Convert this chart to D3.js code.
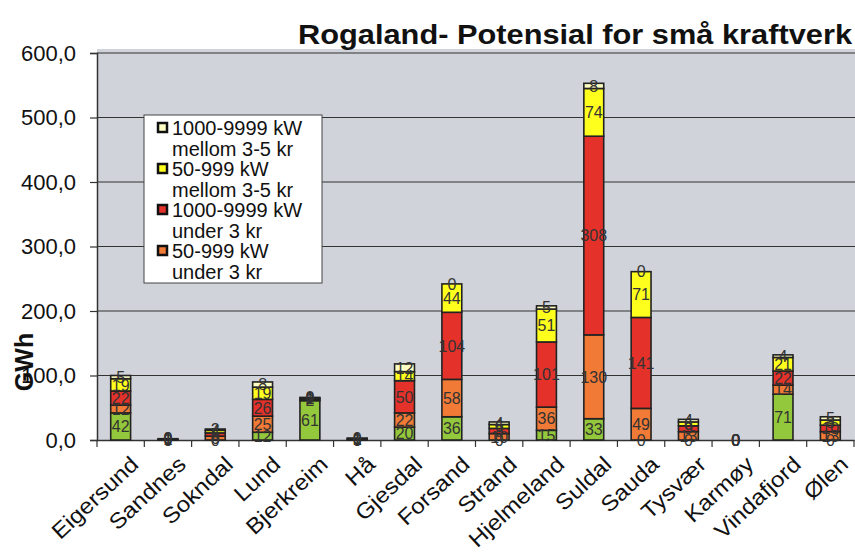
<!DOCTYPE html>
<html><head><meta charset="utf-8">
<script src="https://cdn.jsdelivr.net/npm/d3@7/dist/d3.min.js"></script>
<style>body{margin:0;background:#fff;} text{font-family:Arial,"Liberation Sans",sans-serif;}</style>
</head><body><svg id="c" width="855" height="557"></svg>
<script>
const categories = ["Eigersund","Sandnes","Sokndal","Lund","Bjerkreim","Hå","Gjesdal","Forsand","Strand","Hjelmeland","Suldal","Sauda","Tysvær","Karmøy","Vindafjord","Ølen"];
const green  = [42, 0, 0, 12, 61, 0, 20, 36, 0, 15, 33, 0, 0, 0, 71, 0];
const orange = [12, 1, 6, 25, 2, 1, 22, 58, 10, 36, 130, 49, 13, 0, 14, 13];
const red    = [22, 1, 5, 26, 2, 1, 50, 104, 8, 101, 308, 141, 9, 0, 22, 10];
const yellow = [19, 0, 4, 19, 1, 1, 14, 44, 6, 51, 74, 71, 6, 0, 21, 8];
const pale   = [5, 0, 2, 8, 0, 0, 12, 0, 4, 5, 8, 0, 4, 0, 4, 5];
const yTicks = [0,100,200,300,400,500,600];
const yTickLabels = ["0,0","100,0","200,0","300,0","400,0","500,0","600,0"];
const legendLabels = [["1000-9999 kW","mellom 3-5 kr"],["50-999 kW","mellom 3-5 kr"],["1000-9999 kW","under 3 kr"],["50-999 kW","under 3 kr"]];
const title = "Rogaland- Potensial for små kraftverk";

const seriesKeys = ["green","orange","red","yellow","pale"];
const seriesVals = {green, orange, red, yellow, pale};
const colors = {green:"#94c83c", orange:"#f07a36", red:"#e4322b", yellow:"#ffff1e", pale:"#ffffc4"};
const legendKeys = ["pale","yellow","red","orange"];

const svg = d3.select("#c");
const L = 97, R = 854, T = 53, B = 440;
const x = d3.scaleBand().domain(categories).range([L, R]).paddingInner(0.58).paddingOuter(0.29);
const y = d3.scaleLinear().domain([0, 600]).range([B, T]);

svg.append("rect").attr("x", L).attr("y", T-4).attr("width", R-L+2).attr("height", B-T+4).attr("fill", "#d0d3da");

// gridlines
svg.append("g").selectAll("line").data(yTicks.filter(d=>d>0)).join("line")
  .attr("x1", L).attr("x2", 855).attr("y1", d=>y(d)).attr("y2", d=>y(d))
  .attr("stroke", "#333").attr("stroke-width", 1.2);

// y axis
const yAxis = d3.axisLeft(y).tickValues(yTicks).tickSize(7).tickFormat((d,i)=>yTickLabels[i]);
const ya = svg.append("g").attr("transform", `translate(${L},0)`).call(yAxis);
ya.select(".domain").attr("stroke","#333").attr("stroke-width",1.5);
ya.selectAll(".tick line").attr("stroke","#333").attr("stroke-width",1.2);
ya.selectAll(".tick text").attr("x",-21).attr("font-size",22).attr("fill","#111").attr("font-family","Arial, Liberation Sans, sans-serif");

// x axis
const xAxis = d3.axisBottom(x).tickSize(0).tickFormat("");
const xa = svg.append("g").attr("transform", `translate(0,${B})`).call(xAxis);
xa.select(".domain").attr("stroke","#333").attr("stroke-width",1.5);
const step = x.step();
xa.selectAll(".bt").data(d3.range(categories.length+1)).join("line")
  .attr("x1", i=>L+i*step).attr("x2", i=>L+i*step).attr("y1",0).attr("y2",7)
  .attr("stroke","#333").attr("stroke-width",1.2);

// stacked bars
const table = categories.map((c,i)=>{const o={cat:c}; seriesKeys.forEach(k=>o[k]=seriesVals[k][i]); return o;});
const stack = d3.stack().keys(seriesKeys)(table);
const gBars = svg.append("g");
stack.forEach(s=>{
  gBars.selectAll(null).data(s).join("rect")
    .attr("x", d=>x(d.data.cat)).attr("width", x.bandwidth())
    .attr("y", d=>y(d[1])).attr("height", d=>y(d[0])-y(d[1]))
    .attr("fill", colors[s.key]).attr("stroke","#222").attr("stroke-width",1.6);
});
const gLab = svg.append("g");
stack.forEach(s=>{
  gLab.selectAll(null).data(s).join("text")
    .attr("x", d=>x(d.data.cat)+x.bandwidth()/2)
    .attr("y", d=>(y(d[0])+y(d[1]))/2)
    .attr("dy","0.36em").attr("text-anchor","middle")
    .attr("font-size",16).attr("fill","#333")
    .text(d=>Math.round(d[1]-d[0]));
});

// x labels
svg.append("g").selectAll("text").data(categories).join("text")
  .attr("transform", d=>`translate(${x(d)+x.bandwidth()/2+8},${B+14}) rotate(-43) scale(1.1,1)`)
  .attr("text-anchor","end").attr("dy","0.75em").attr("font-size",22).attr("fill","#111")
  .text(d=>d);

// y title
svg.append("text").attr("transform","translate(33,362) rotate(-90)").attr("text-anchor","middle")
  .attr("font-size",25).attr("font-weight","bold").attr("fill","#111").text("GWh");

// title
svg.append("text").attr("x",298).attr("y",44).attr("textLength",554).attr("lengthAdjust","spacingAndGlyphs")
  .attr("font-size",28).attr("font-weight","bold").attr("fill","#111").text(title);

// legend
const lg = svg.append("g");
lg.append("rect").attr("x",144).attr("y",115).attr("width",178).attr("height",168)
  .attr("fill","#fff").attr("stroke","#444").attr("stroke-width",1);
legendKeys.forEach((k,i)=>{
  const by = 135 + i*41;
  lg.append("rect").attr("x",158).attr("y",by-12).attr("width",9).attr("height",9)
    .attr("fill",colors[k]).attr("stroke","#111").attr("stroke-width",2.5);
  legendLabels[i].forEach((t,j)=>{
    lg.append("text").attr("x",172).attr("y",by+j*20.5).attr("font-size",20).attr("fill","#111").text(t);
  });
});
</script></body></html>
